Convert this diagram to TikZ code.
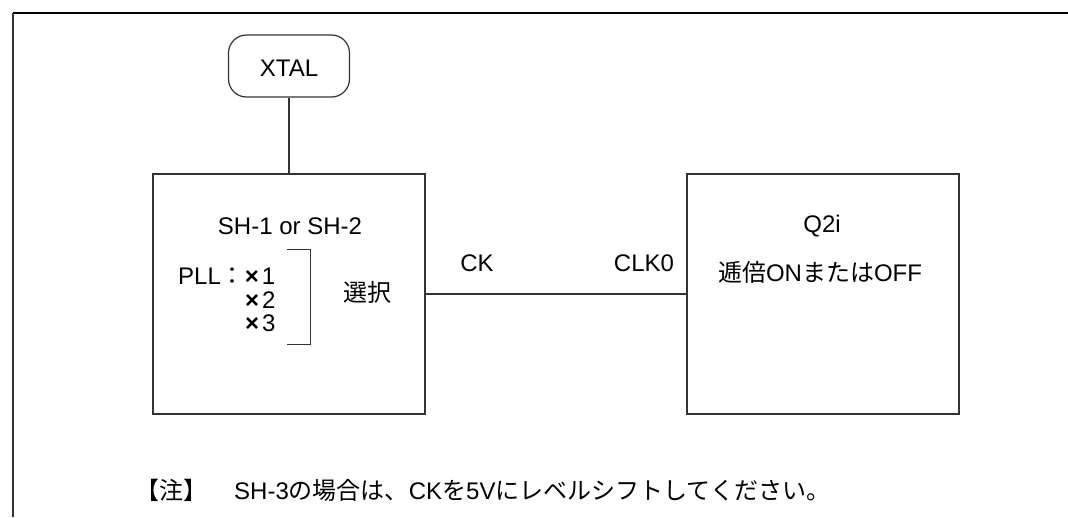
\documentclass[tikz,border=0pt]{standalone}
\usepackage{fontspec}
\setmainfont{Liberation Sans}
\newfontfamily\jp{Noto Sans CJK JP}
\usepackage{tikz}
\usetikzlibrary{calc}

\tikzset{
  blk/.style={draw=black!80,line width=1.2pt,minimum width=272pt,minimum height=240pt},
  lbl/.style={inner sep=0pt,font=\fontsize{24}{28}\selectfont},
  wire/.style={draw=black!80,line width=1.2pt}
}
\newcommand{\mtimes}{\textbf{×}\hspace{3pt}}

\begin{document}
\begin{tikzpicture}[x=1pt,y=-1pt]
            \useasboundingbox (0,0) rectangle (1068,517);
            \draw[line width=2pt] (1068,13) -- (13,13);
            \draw[line width=1.2pt,black!80] (13,13) -- (13,517);
            \node[blk,rounded corners=18pt,minimum width=121pt,minimum height=62pt] (XT) at (289,66) {};
            \node[lbl] (xtal) at (289,68) {XTAL};
            \node[blk] (SH) at (289,294) {};
            \node[blk] (Q) at (823,294) {};
            \path[wire] (XT) edge (SH)  (SH) edge (Q);
            \node[lbl] (shname) at (290,226) {SH-1 or SH-2};
            \node[lbl,anchor=west] (pll) at (178,276) {PLL{\jp ：}\mtimes 1};
            \node[lbl,anchor=west] (x2) at (245,300) {\mtimes 2};
            \node[lbl,anchor=west] (x3) at (245,323) {\mtimes 3};
            \coordinate (b1) at (287,249);
            \coordinate (b2) at (287,344);
            \draw[wire,line width=1pt] (b1) -- ($(b1)+(23,0)$) -- ($(b2)+(23,0)$) -- (b2);
            \node[lbl] (sel) at (367,292) {\jp 選択};
            \node[lbl] (ck) at (477,263) {CK};
            \node[lbl] (clk) at (644,263) {CLK0};
            \node[lbl] (qname) at (822,226) {Q2i};
            \node[lbl] (mult) at (820,272) {{\jp 逓倍}ON{\jp または}OFF};
            \node[lbl,anchor=west] (note) at (135,490) {{\jp 【注】}\hspace{27pt}SH-3{\jp の場合は、}CK{\jp を}5V{\jp にレベルシフトしてください。}};
          \end{tikzpicture}
\end{document}
